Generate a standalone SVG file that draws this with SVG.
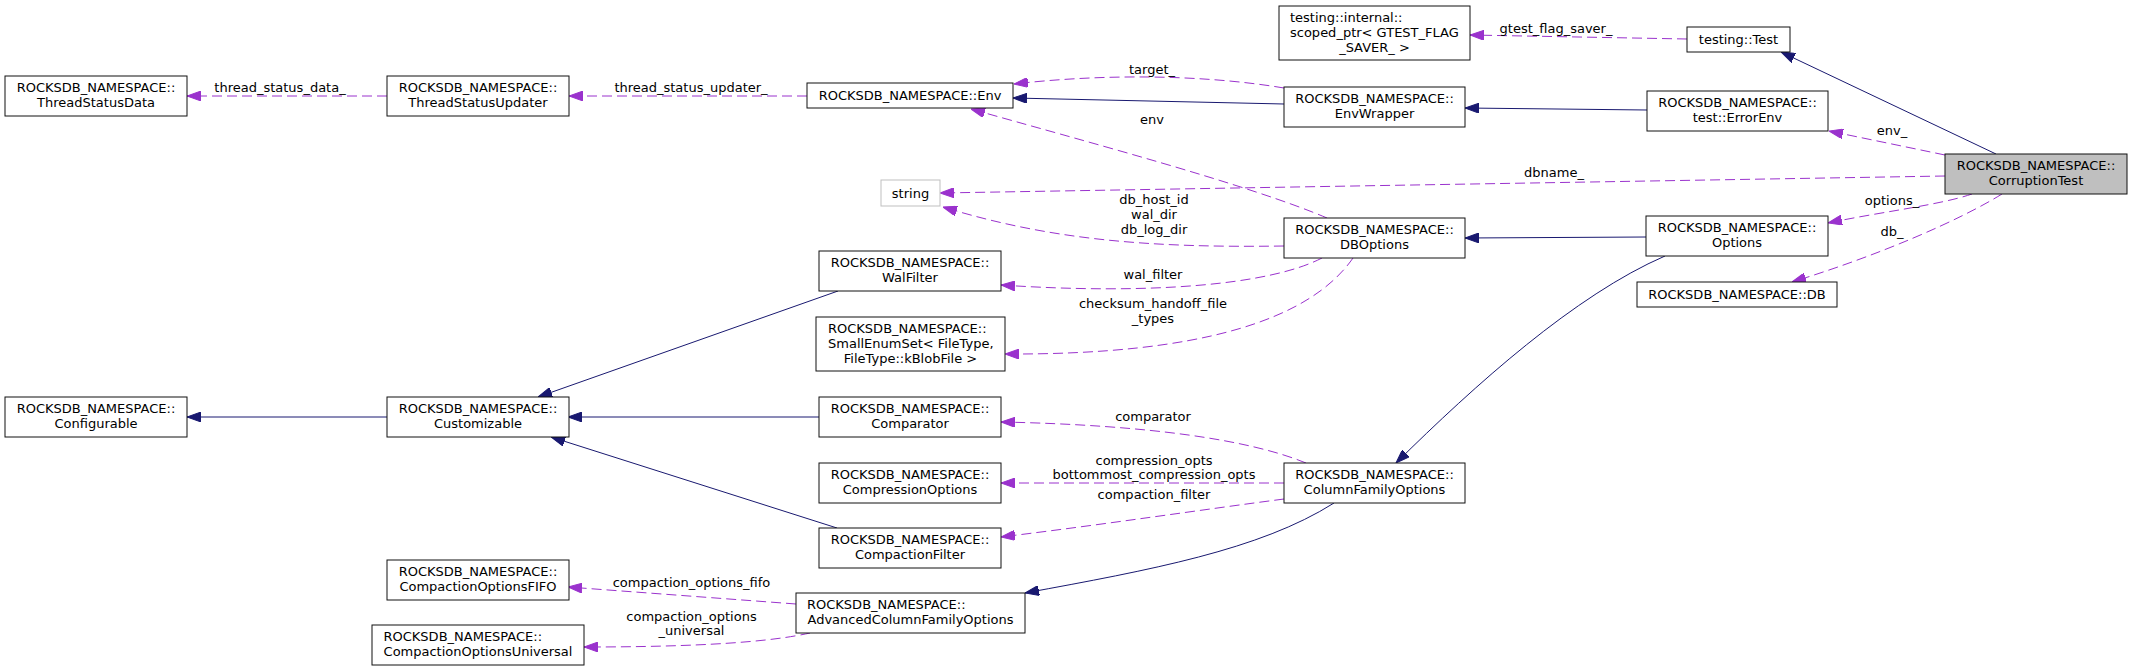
<svg xmlns="http://www.w3.org/2000/svg" width="2132" height="671" viewBox="0 0 2132 671">
<style>
text{font-family:"DejaVu Sans","Liberation Sans",sans-serif;font-size:13px;fill:#000}
.n rect{fill:#fff;stroke:#111;stroke-width:1}
.c{text-anchor:middle}
.s{text-anchor:start}
.inh{fill:none;stroke:#191970;stroke-width:1}
.use{fill:none;stroke:#9a32cd;stroke-width:1;stroke-dasharray:10,5}
</style>
<defs>
<marker id="ah" viewBox="0 0 14 10" refX="14" refY="5" markerWidth="14" markerHeight="10" markerUnits="userSpaceOnUse" orient="auto"><path d="M0,0L14,5L0,10z" fill="#191970" stroke="#191970" stroke-width="1"/></marker>
<marker id="ap" viewBox="0 0 14 10" refX="14" refY="5" markerWidth="14" markerHeight="10" markerUnits="userSpaceOnUse" orient="auto"><path d="M0,0L14,5L0,10z" fill="#9a32cd" stroke="#9a32cd" stroke-width="1"/></marker>
</defs>
<rect width="2132" height="671" fill="#fff"/>
<g id="connectors">
<path class="use" marker-end="url(#ap)" d="M387,96L187,96"/>
<text class="c" x="280" y="92">thread_status_data_</text>
<path class="use" marker-end="url(#ap)" d="M807,96L569,96"/>
<text class="c" x="691" y="92">thread_status_updater_</text>
<path class="inh" marker-end="url(#ah)" d="M1284,104L1013,98"/>
<path class="use" marker-end="url(#ap)" d="M1284,88C1200,74 1100,74 1014,84"/>
<text class="c" x="1152" y="73.5">target_</text>
<path class="use" marker-end="url(#ap)" d="M1327,218C1250,185 1080,140 971,109"/>
<text class="c" x="1152" y="124">env</text>
<path class="use" marker-end="url(#ap)" d="M1945,176L940,193"/>
<text class="c" x="1554" y="177">dbname_</text>
<path class="use" marker-end="url(#ap)" d="M1284,246C1150,248 1050,240 943,207"/>
<text class="c" x="1154" y="203.5">db_host_id</text>
<text class="c" x="1154" y="218.5">wal_dir</text>
<text class="c" x="1154" y="233.5">db_log_dir</text>
<path class="use" marker-end="url(#ap)" d="M1322,258C1270,285 1150,295 1001,285"/>
<text class="c" x="1153" y="278.5">wal_filter</text>
<path class="use" marker-end="url(#ap)" d="M1353,258C1310,320 1200,355 1005,354"/>
<text class="c" x="1153" y="308">checksum_handoff_file</text>
<text class="c" x="1153" y="323">_types</text>
<path class="inh" marker-end="url(#ah)" d="M1646,237L1465,238"/>
<path class="use" marker-end="url(#ap)" d="M1972,194C1940,205 1880,212 1828,223"/>
<text class="c" x="1892" y="204.5">options_</text>
<path class="use" marker-end="url(#ap)" d="M2002,194C1960,220 1880,255 1792,282"/>
<text class="c" x="1892" y="236">db_</text>
<path class="use" marker-end="url(#ap)" d="M1945,155L1829,131"/>
<text class="c" x="1892" y="135">env_</text>
<path class="inh" marker-end="url(#ah)" d="M1647,110L1465,108"/>
<path class="inh" marker-end="url(#ah)" d="M1996,154L1781,52"/>
<path class="use" marker-end="url(#ap)" d="M1687,39L1470,35"/>
<text class="c" x="1556" y="33">gtest_flag_saver_</text>
<path class="inh" marker-end="url(#ah)" d="M387,417L187,417"/>
<path class="inh" marker-end="url(#ah)" d="M838,291L538,397"/>
<path class="inh" marker-end="url(#ah)" d="M819,417L568,417"/>
<path class="inh" marker-end="url(#ah)" d="M837,528L551,437"/>
<path class="use" marker-end="url(#ap)" d="M1306,463C1250,440 1150,425 1001,422"/>
<text class="c" x="1153" y="421">comparator</text>
<path class="use" marker-end="url(#ap)" d="M1284,483L1001,483"/>
<text class="c" x="1154" y="464.5">compression_opts</text>
<text class="c" x="1154" y="479">bottommost_compression_opts</text>
<path class="use" marker-end="url(#ap)" d="M1284,499C1200,510 1100,525 1001,537"/>
<text class="c" x="1154" y="499">compaction_filter</text>
<path class="inh" marker-end="url(#ah)" d="M1334,503C1260,550 1150,570 1025,593"/>
<path class="inh" marker-end="url(#ah)" d="M1665,256C1575,295 1475,385 1396,463"/>
<path class="use" marker-end="url(#ap)" d="M796,604L568,587"/>
<text class="c" x="691.5" y="587">compaction_options_fifo</text>
<path class="use" marker-end="url(#ap)" d="M810,633C770,642 700,647 584,647"/>
<text class="c" x="691.5" y="620.5">compaction_options</text>
<text class="c" x="691.5" y="634.5">_universal</text>
</g>
<g id="n_ThreadStatusData" class="n"><rect x="5" y="76" width="182" height="40"/><text class="c" x="96" y="92">ROCKSDB_NAMESPACE::</text><text class="c" x="96" y="107">ThreadStatusData</text></g>
<g id="n_ThreadStatusUpdater" class="n"><rect x="387" y="76" width="182" height="40"/><text class="c" x="478" y="92">ROCKSDB_NAMESPACE::</text><text class="c" x="478" y="107">ThreadStatusUpdater</text></g>
<g id="n_Env" class="n"><rect x="807" y="83" width="206" height="25"/><text class="c" x="910" y="100">ROCKSDB_NAMESPACE::Env</text></g>
<g id="n_scoped_ptr" class="n"><rect x="1279" y="6" width="191" height="54"/><text class="s" x="1290" y="22">testing::internal::</text><text class="s" x="1290" y="37">scoped_ptr&lt; GTEST_FLAG</text><text class="c" x="1374.5" y="51.5">_SAVER_ &gt;</text></g>
<g id="n_Test" class="n"><rect x="1687" y="27" width="103" height="25"/><text class="c" x="1738.5" y="44">testing::Test</text></g>
<g id="n_EnvWrapper" class="n"><rect x="1284" y="87" width="181" height="40"/><text class="c" x="1374.5" y="103">ROCKSDB_NAMESPACE::</text><text class="c" x="1374.5" y="118">EnvWrapper</text></g>
<g id="n_ErrorEnv" class="n"><rect x="1647" y="91" width="181" height="40"/><text class="c" x="1737.5" y="107">ROCKSDB_NAMESPACE::</text><text class="c" x="1737.5" y="122">test::ErrorEnv</text></g>
<g id="n_CorruptionTest" class="n"><rect x="1945" y="154" width="182" height="40" style="fill:#bfbfbf"/><text class="c" x="2036" y="170">ROCKSDB_NAMESPACE::</text><text class="c" x="2036" y="185">CorruptionTest</text></g>
<g id="n_string" class="n"><rect x="881" y="180" width="59" height="26" style="stroke:#bfbfbf"/><text class="c" x="910.5" y="197.5">string</text></g>
<g id="n_DBOptions" class="n"><rect x="1284" y="218" width="181" height="40"/><text class="c" x="1374.5" y="234">ROCKSDB_NAMESPACE::</text><text class="c" x="1374.5" y="249">DBOptions</text></g>
<g id="n_Options" class="n"><rect x="1646" y="216" width="182" height="40"/><text class="c" x="1737" y="232">ROCKSDB_NAMESPACE::</text><text class="c" x="1737" y="247">Options</text></g>
<g id="n_DB" class="n"><rect x="1637" y="282" width="200" height="25"/><text class="c" x="1737" y="299">ROCKSDB_NAMESPACE::DB</text></g>
<g id="n_WalFilter" class="n"><rect x="819" y="251" width="182" height="40"/><text class="c" x="910" y="267">ROCKSDB_NAMESPACE::</text><text class="c" x="910" y="282">WalFilter</text></g>
<g id="n_SmallEnumSet" class="n"><rect x="816" y="317" width="189" height="54"/><text class="s" x="828" y="333">ROCKSDB_NAMESPACE::</text><text class="s" x="828" y="348">SmallEnumSet&lt; FileType,</text><text class="c" x="910.5" y="362.5">FileType::kBlobFile &gt;</text></g>
<g id="n_Configurable" class="n"><rect x="5" y="397" width="182" height="40"/><text class="c" x="96" y="413">ROCKSDB_NAMESPACE::</text><text class="c" x="96" y="428">Configurable</text></g>
<g id="n_Customizable" class="n"><rect x="387" y="397" width="182" height="40"/><text class="c" x="478" y="413">ROCKSDB_NAMESPACE::</text><text class="c" x="478" y="428">Customizable</text></g>
<g id="n_Comparator" class="n"><rect x="819" y="397" width="182" height="40"/><text class="c" x="910" y="413">ROCKSDB_NAMESPACE::</text><text class="c" x="910" y="428">Comparator</text></g>
<g id="n_CompressionOptions" class="n"><rect x="819" y="463" width="182" height="40"/><text class="c" x="910" y="479">ROCKSDB_NAMESPACE::</text><text class="c" x="910" y="494">CompressionOptions</text></g>
<g id="n_ColumnFamilyOptions" class="n"><rect x="1284" y="463" width="181" height="40"/><text class="c" x="1374.5" y="479">ROCKSDB_NAMESPACE::</text><text class="c" x="1374.5" y="494">ColumnFamilyOptions</text></g>
<g id="n_CompactionFilter" class="n"><rect x="819" y="528" width="182" height="40"/><text class="c" x="910" y="544">ROCKSDB_NAMESPACE::</text><text class="c" x="910" y="559">CompactionFilter</text></g>
<g id="n_CompactionOptionsFIFO" class="n"><rect x="387" y="560" width="182" height="40"/><text class="c" x="478" y="576">ROCKSDB_NAMESPACE::</text><text class="c" x="478" y="591">CompactionOptionsFIFO</text></g>
<g id="n_AdvancedColumnFamilyOptions" class="n"><rect x="796" y="593" width="229" height="40"/><text class="s" x="807" y="609">ROCKSDB_NAMESPACE::</text><text class="c" x="910.5" y="624">AdvancedColumnFamilyOptions</text></g>
<g id="n_CompactionOptionsUniversal" class="n"><rect x="372" y="625" width="212" height="40"/><text class="s" x="383.5" y="641">ROCKSDB_NAMESPACE::</text><text class="c" x="478" y="656">CompactionOptionsUniversal</text></g>
</svg>
